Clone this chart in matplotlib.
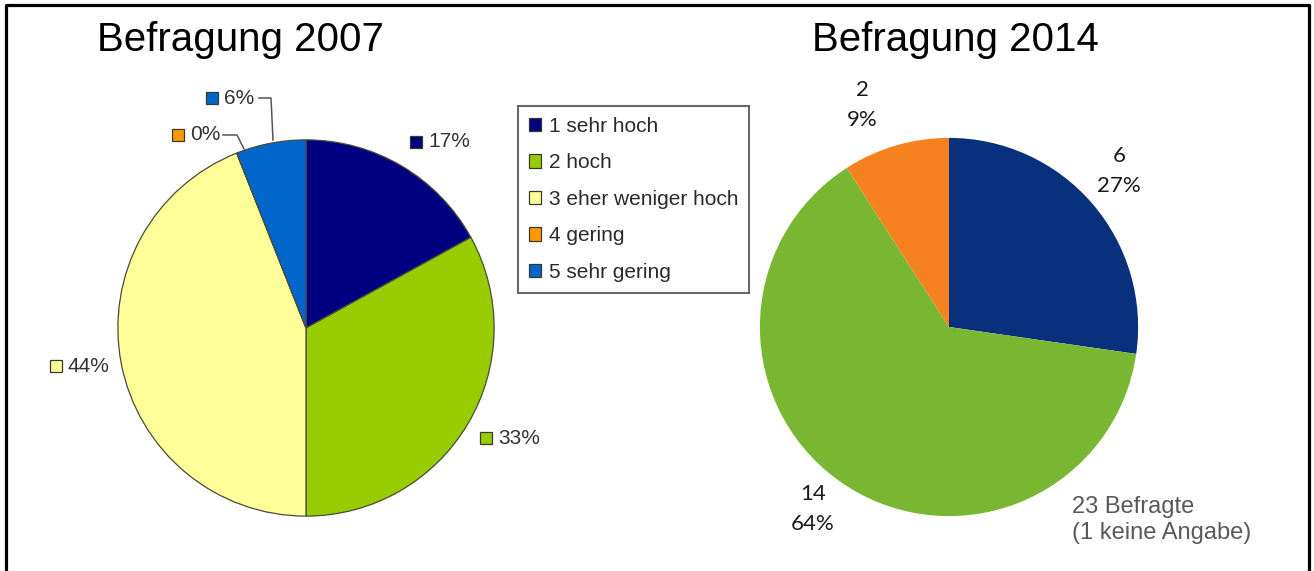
import matplotlib
matplotlib.use("Agg")
import matplotlib.pyplot as plt
from matplotlib.patches import Rectangle, Patch
from matplotlib.lines import Line2D

W, H = 1314, 571

# 2007 survey (percent)
cats_2007 = ["1 sehr hoch", "2 hoch", "3 eher weniger hoch", "4 gering", "5 sehr gering"]
vals_2007 = [17, 33, 44, 0, 6]
cols_2007 = ["#000080", "#99cc00", "#ffff99", "#ff9900", "#0066cc"]

# 2014 survey (counts)
vals_2014 = [6, 14, 2]
pct_2014 = ["27%", "64%", "9%"]
cols_2014 = ["#08307d", "#79b733", "#f5821f"]


def fx(x):
    return x / W


def fy(y):
    return 1 - y / H


fig = plt.figure(figsize=(W / 100, H / 100), dpi=100)
fig.patch.set_facecolor("white")

# frame around the picture (left, top, right)
fig.add_artist(Line2D([fx(6), fx(6), fx(1309), fx(1309)], [0, fy(5), fy(5), 0],
                      transform=fig.transFigure, color="black", lw=2.3))

# --- left pie 2007 ---
r = 190
ax1 = fig.add_axes([fx(306 - r), fy(328 + r), 2 * r / W, 2 * r / H])
wedges1, _ = ax1.pie(vals_2007, colors=cols_2007, startangle=90, counterclock=False,
                     radius=1, wedgeprops=dict(edgecolor="#4a4a3a", linewidth=0.9))
ax1.set_xlim(-1.01, 1.01)
ax1.set_ylim(-1.01, 1.01)
ax1.set_aspect("auto")
ax1.axis("off")

fig.text(fx(240), fy(40), "Befragung 2007", fontsize=29, family="Liberation Sans",
         ha="center", va="center")

lab_font = dict(fontsize=15, family="Liberation Sans", color="#333333", va="center", ha="left")
labels_2007 = [("17%", 428, 142), ("33%", 498, 438), ("44%", 68, 366), ("0%", 190, 135), ("6%", 224, 98)]
for (txt, x, y), c in zip(labels_2007, cols_2007):
    fig.add_artist(Rectangle((fx(x - 18), fy(y + 6)), 12 / W, 12 / H, transform=fig.transFigure,
                             facecolor=c, edgecolor="#3a3a2a", lw=0.9))
    fig.text(fx(x), fy(y), txt, **lab_font)

# leader lines for small slices
fig.add_artist(Line2D([fx(259), fx(271), fx(273)], [fy(98), fy(98), fy(140)],
                      transform=fig.transFigure, color="#555555", lw=1.1))
fig.add_artist(Line2D([fx(223), fx(237), fx(244)], [fy(135), fy(135), fy(149)],
                      transform=fig.transFigure, color="#555555", lw=1.1))

# legend
handles = [Patch(facecolor=c, edgecolor="#3a3a2a", lw=0.9) for c in cols_2007]
leg = fig.legend(handles, cats_2007, loc="upper left", bbox_to_anchor=(fx(518), fy(106)),
                 prop=dict(family="Liberation Sans", size=15), frameon=True, fancybox=False,
                 edgecolor="#444444", handlelength=0.6, handleheight=0.6, handletextpad=0.35,
                 labelspacing=0.84, borderpad=0.52, borderaxespad=0)
leg.get_frame().set_linewidth(1.5)
for t in leg.get_texts():
    t.set_color("#2a2a2a")

# --- right pie 2014 ---
r2 = 191
ax2 = fig.add_axes([fx(949 - r2), fy(327 + r2), 2 * r2 / W, 2 * r2 / H])
ax2.pie(vals_2014, colors=cols_2014, startangle=90, counterclock=False, radius=1,
        wedgeprops=dict(linewidth=0))
ax2.set_xlim(-1.01, 1.01)
ax2.set_ylim(-1.01, 1.01)
ax2.set_aspect("auto")
ax2.axis("off")

fig.text(fx(955), fy(40), "Befragung 2014", fontsize=29, family="Liberation Sans",
         ha="center", va="center")

pos_2014 = [(1119, 171), (813, 509), (862, 105)]
for v, p, (x, y) in zip(vals_2014, pct_2014, pos_2014):
    fig.text(fx(x), fy(y), f"{v}\n{p}", fontsize=16, family="Lato", ha="center", va="center",
             linespacing=1.6, color="#1a1a1a")

fig.text(fx(1072), fy(520), "23 Befragte\n(1 keine Angabe)", fontsize=17,
         family="Liberation Sans", color="#595959", ha="left", va="center", linespacing=1.25)

fig.savefig("out.png", dpi=100, facecolor="white")
